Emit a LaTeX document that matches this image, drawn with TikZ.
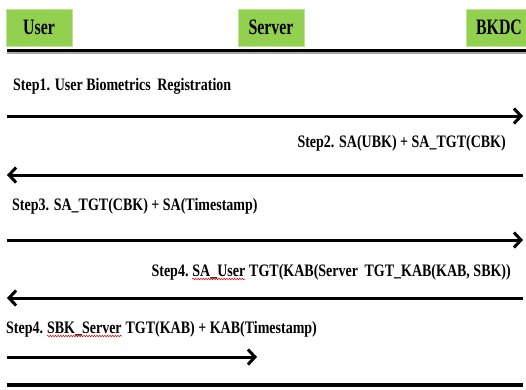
\documentclass[tikz,border=0pt]{standalone}
\usepackage{fontspec}
\setmainfont{Liberation Serif}[FakeStretch=0.8]
\newfontfamily\hdrfont{Liberation Serif}[FakeStretch=0.72]
\usetikzlibrary{arrows.meta,decorations.pathmorphing}
\definecolor{hdrgreen}{HTML}{92D050}
\begin{document}
\begin{tikzpicture}[x=1pt,y=-1pt,
  actor/.style={fill=hdrgreen, draw=hdrgreen!60!white, line width=0.6pt,
    minimum width=66pt, minimum height=37pt, inner sep=0pt,
    font=\hdrfont\fontsize{22}{24}\selectfont\bfseries},
  msg/.style={inner sep=0pt, font=\fontsize{17.5}{19}\selectfont\bfseries},
  flow/.style={line width=3pt, -{Straight Barb[length=7pt,width=15pt]}},
  rule/.style={line width=3pt},
  shade/.style={line width=2pt, black!35},
  spell/.style={red!85!black, line width=0.5pt, decorate,
    decoration={snake, amplitude=0.8pt, segment length=2.6pt}}]
\useasboundingbox (0,0) rectangle (526,389);

% parties
\node[actor] (user)   at (39,27.5)  {User};
\node[actor] (server) at (271,27.5) {Server};
\node[actor] (bkdc)   at (499,27.5) {BKDC};

% header rule with its soft shadow
\coordinate (hl) at (7,50);
\coordinate (hr) at (526,50);
\draw[shade] ([yshift=-2.5pt]hl) -- ([yshift=-2.5pt]hr);
\draw[rule] (hl) -- (hr);

% step 1
\node[msg, anchor=west] (s1) at (13,86) {Step1. User Biometrics\hspace{3pt} Registration};
\coordinate (a1l) at (7,116);
\coordinate (a1r) at (523,116);
\draw[flow] (a1l) -- (a1r);

% step 2
\node[msg, anchor=east] (s2) at (506,143) {Step2. SA(UBK) + SA\_TGT(CBK)};
\coordinate (a2l) at (7,175);
\coordinate (a2r) at (523,175);
\draw[flow] (a2r) -- (a2l);

% step 3
\node[msg, anchor=west] (s3) at (12,206) {Step3. SA\_TGT(CBK) + SA(Timestamp)};
\coordinate (a3l) at (7,240);
\coordinate (a3r) at (523,240);
\draw[flow] (a3l) -- (a3r);

% step 4 (reply to the user)
\node[msg, anchor=base east] (s4c) at (511,276) {\ TGT(KAB(Server\hspace{3pt} TGT\_KAB(KAB, SBK))};
\node[msg, anchor=base east] (s4b) at (s4c.base west) {SA\_User};
\node[msg, anchor=base east] (s4a) at (s4b.base west) {Step4.\ \null};
\draw[spell] ([yshift=-3pt]s4b.base west) -- ([yshift=-3pt]s4b.base east);
\coordinate (a4l) at (7,298);
\coordinate (a4r) at (523,298);
\draw[flow] (a4r) -- (a4l);

% step 4 (user to server)
\node[msg, anchor=base west] (s5a) at (6,333) {Step4.\ \null};
\node[msg, anchor=base west] (s5b) at (s5a.base east) {SBK\_Server};
\node[msg, anchor=base west] (s5c) at (s5b.base east) {\ TGT(KAB) + KAB(Timestamp)};
\draw[spell] ([yshift=-3pt]s5b.base west) -- ([yshift=-3pt]s5b.base east);
\coordinate (a5l) at (7,357);
\coordinate (a5r) at (257,357);
\draw[flow] (a5l) -- (a5r);

% closing rule
\coordinate (bl) at (7,385);
\coordinate (br) at (523,385);
\draw[line width=3.5pt] (bl) -- (br);
\end{tikzpicture}
\end{document}
